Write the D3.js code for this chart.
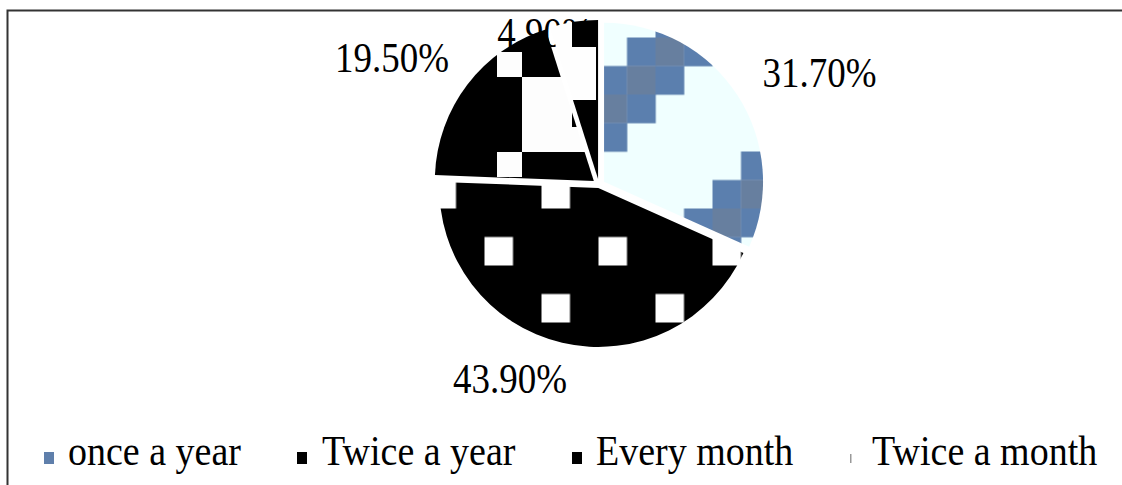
<!DOCTYPE html>
<html>
<head>
<meta charset="utf-8">
<script src="https://cdn.jsdelivr.net/npm/d3@7"></script>
<style>
  html, body { margin: 0; padding: 0; background: #fff; }
  svg { display: block; }
  text { font-family: "Liberation Serif", "Times New Roman", serif; }
</style>
</head>
<body>
<svg id="chart" width="1122" height="485"></svg>
<script>
// ---- data ----
const categories = ["once a year", "Twice a year", "Every month", "Twice a month"];
const values = [31.7, 43.9, 19.5, 4.9];
const valueLabels = ["31.70%", "43.90%", "19.50%", "4.90%"];

// ---- layout / style config ----
const W = 1122, H = 485;
const center = [599, 185];
const radius = 159;
const explode = [6, 3, 6.5, 6];
const labelPos = [[819.5, 87], [510, 393], [392, 72], [545, 47]];
const legendX = [44, 297, 572, 848];
const legendTextX = [68, 322, 596, 872];
const legendY = 465;
const markerColors = ["#5f7fab", "#000000", "#000000", "#ffffff"];
const fontSize = 37, legendFontSize = 38, yStretch = 1.12;

const svg = d3.select("#chart");
const defs = svg.append("defs");

// chart border
svg.append("rect")
  .attr("x", 7.5).attr("y", 10.5)
  .attr("width", 1300).attr("height", 600)
  .attr("fill", "none").attr("stroke", "#333").attr("stroke-width", 2);

const pie = d3.pie().sort(null).value(d => d);
const arcs = pie(values);
const arc = d3.arc().innerRadius(0).outerRadius(radius);

const offsets = arcs.map((a, i) => {
  const mid = (a.startAngle + a.endAngle) / 2;
  return [center[0] + Math.sin(mid) * explode[i], center[1] - Math.cos(mid) * explode[i]];
});

// ---- patterns (absolute coordinates, compensated for slice translation) ----
function makePattern(id, idx, x, y, w, h, bg) {
  const p = defs.append("pattern")
    .attr("id", id)
    .attr("patternUnits", "userSpaceOnUse")
    .attr("x", x).attr("y", y).attr("width", w).attr("height", h)
    .attr("patternTransform", `translate(${-offsets[idx][0]},${-offsets[idx][1]})`);
  p.append("rect").attr("width", w).attr("height", h).attr("fill", bg);
  return p;
}
// once a year: light cyan with diagonal blue stepped bands
{
  const c = 28.5;
  const p = makePattern("pat0", 0, 598.5, 37.5, c * 8, c * 8, "#f0ffff");
  for (let i = 0; i < 8; i++) for (let j = 0; j < 8; j++) {
    const m = (i + j) % 8;
    if (m >= 1 && m <= 3) {
      p.append("rect").attr("x", i * c).attr("y", j * c)
        .attr("width", c + 0.3).attr("height", c + 0.3)
        .attr("fill", (i + j) % 2 ? "#5b7fae" : "#677f9f");
    }
  }
}
// Twice a year: black with sparse white squares
{
  const c = 28.5;
  const p = makePattern("pat1", 1, 598.5, 37.5, c * 4, c * 4, "#000");
  [[0, 3], [2, 1]].forEach(([i, j]) =>
    p.append("rect").attr("x", i * c).attr("y", j * c).attr("width", c).attr("height", c).attr("fill", "#fff"));
}
// Every month: black with white block
{
  const c = 25;
  const p = makePattern("pat2", 2, 422, 2, 300, 300, "#000");
  [[3, 2], [4, 3], [5, 3], [4, 4], [5, 4], [4, 5], [5, 5], [6, 5], [3, 6]].forEach(([i, j]) =>
    p.append("rect").attr("x", i * c).attr("y", j * c).attr("width", c).attr("height", c).attr("fill", "#fdfdfd"));
}
// Twice a month: white with black blocks
{
  const p = makePattern("pat3", 3, 540, 0, 100, 260, "#fefefe");
  p.append("rect").attr("x", 32).attr("y", 17).attr("width", 30).attr("height", 30).attr("fill", "#000");
  p.append("rect").attr("x", 32).attr("y", 100).attr("width", 30).attr("height", 90).attr("fill", "#000");
  p.append("rect").attr("x", 56).attr("y", 0).attr("width", 6).attr("height", 200).attr("fill", "#000");
}

// ---- value labels (drawn beneath slices) ----
svg.append("g").selectAll("text")
  .data(valueLabels)
  .join("text")
  .attr("transform", (d, i) => `translate(${labelPos[i][0]},${labelPos[i][1]}) scale(1,${yStretch})`)
  .attr("text-anchor", "middle")
  .attr("font-size", fontSize)
  .attr("fill", "#000")
  .text(d => d);

// ---- slices ----
svg.append("g").selectAll("path")
  .data(arcs)
  .join("path")
  .attr("transform", (d, i) => `translate(${offsets[i][0]},${offsets[i][1]})`)
  .attr("d", arc)
  .attr("fill", (d, i) => `url(#pat${i})`);

// ---- legend ----
const lg = svg.append("g");
const items = lg.selectAll("g").data(categories).join("g");
items.append("rect")
  .attr("x", (d, i) => legendX[i]).attr("y", legendY - 13)
  .attr("width", 10).attr("height", 12)
  .attr("fill", (d, i) => markerColors[i]);
items.filter((d, i) => i === 3).append("rect")
  .attr("x", legendX[3] + 2).attr("y", legendY - 11)
  .attr("width", 1.5).attr("height", 9).attr("fill", "#999");
items.append("text")
  .attr("transform", (d, i) => `translate(${legendTextX[i]},${legendY}) scale(1,${yStretch})`)
  .attr("font-size", legendFontSize)
  .attr("fill", "#000")
  .text(d => d);
</script>
</body>
</html>
